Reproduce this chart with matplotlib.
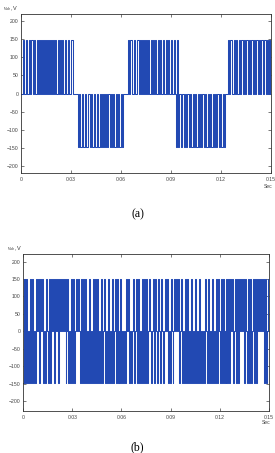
import numpy as np
import matplotlib
matplotlib.use('Agg')
from matplotlib import pyplot as plt

plt.rcParams['font.family'] = ['Liberation Sans', 'DejaVu Sans']
plt.rcParams['path.simplify'] = False
plt.rcParams['mathtext.fontset'] = 'custom'
plt.rcParams['mathtext.it'] = 'Liberation Serif:italic'
plt.rcParams['mathtext.rm'] = 'Liberation Sans'

# sample step of the recorded waveforms (s)
dt = 0.0006

# (a) inverter output, levels in V
a_pos = 147
a_neg = 148
# state of each sample: '+' positive level, '0' zero, '-' negative level
a_state = ("00+00+00+0" "++0+00+0+0" "+0+0+0+0+0" "+0+0+00+0+" "0+00+00+00"
           "++00000-0-" "-0--0--00-" "0--0--0--0" "-0-0-0-00-" "0-0--0-0--"
           "0-00000+0+" "+00+00++0+" "0+0+0+0+00" "+0+0+00+0+" "00+00+0+00"
           "+00+0-+-00" "-00-0-00-0" "--0-0--0-0" "-00-0--0-0" "--0-0-00-0"
           "--0-000+0+" "+00+0+00+0" "++0+0++0+0" "++0+0++0+0" "++0++0+0+0"
           "+")

# (b) inverter output, levels in V
b_pos = 149
b_neg = 149
b_state = ("-+-+-0-+-+" "-0-+0+-+0+" "-0-+0-+-+0" "+-+0+-+0+0" "+0+-0+-0-+"
           "-+-0+0+0-+" "-+-+-0-+-0" "-+-+-+-0-+" "-0+-0-+-0-" "+-0+-+-0-+"
           "-0-0-+0+-0" "-0+-0+-+-0" "-+-+-+-0+0" "-0+-+0-+0-" "+0-0+0+-0-"
           "+0-0+0+0+-" "0+-0-+-+-0" "-+-0-+-0-+" "-0-0-+0-+-" "0-+-0-+-+0"
           "-+-+-0-+-+" "-+0+-0+-+-" "+0+0+-+0-+" "-+-0+-+-+0" "+0+0+-+-0+"
           "-")

xticks = [0, 0.03, 0.06, 0.09, 0.12, 0.15]
xlabels = ['0', '0.03', '0.06', '0.09', '0.12', '0.15']
yticks = [200, 150, 100, 50, 0, -50, -100, -150, -200]

line_color = '#2249b3'
W, H = 275, 453


def volts(state, vpos, vneg):
    lv = {'+': vpos, '0': 0, '-': -vneg}
    return np.array([lv[c] for c in state], dtype=float)


def style(ax, ylim):
    ax.set_xlim(0, 0.15)
    ax.set_ylim(*ylim)
    ax.set_xticks(xticks)
    ax.set_xticklabels(xlabels)
    ax.set_yticks(yticks)
    ax.tick_params(direction='in', length=2, width=0.5, colors='#444444',
                   labelsize=3.7, top=True, right=True)
    ax.tick_params(axis='x', pad=3)
    ax.tick_params(axis='y', pad=2)
    for s in ax.spines.values():
        s.set_linewidth(0.6)
        s.set_color('#333333')


fig = plt.figure(figsize=(W / 100, H / 100), dpi=100)

ax1 = fig.add_axes([21 / W, 1 - 173 / H, 250 / W, 159 / H])
va = volts(a_state, a_pos, a_neg)
ta = np.arange(len(va)) * dt
ax1.plot(ta, va, drawstyle='steps-post', color=line_color, lw=0.75)
style(ax1, (-220, 220))

ax2 = fig.add_axes([23.3 / W, 1 - 410.7 / H, 245.4 / W, 156.4 / H])
vb = volts(b_state, b_pos, b_neg)
tb = np.arange(len(vb)) * dt
ax2.plot(tb, vb, drawstyle='steps-post', color=line_color, lw=0.75)
style(ax2, (-228, 221))

for y_lab, y_sec, y_cap, x_lab, x_sec, cap in [(9, 187, 214, 3, 268, '(a)'),
                                                (249, 423, 447, 7, 266, '(b)')]:
    fig.text(x_lab / W, 1 - y_lab / H, r'$v_{ab}$ ,V', fontsize=4,
             color='#333333', va='center')
    fig.text(x_sec / W, 1 - y_sec / H, 'Sec', fontsize=3.6, color='#444444',
             ha='center', va='center')
    fig.text(0.5, 1 - y_cap / H, cap, family='Liberation Serif',
             fontsize=8.5, ha='center', va='center')

fig.savefig('out.png', dpi=100)
